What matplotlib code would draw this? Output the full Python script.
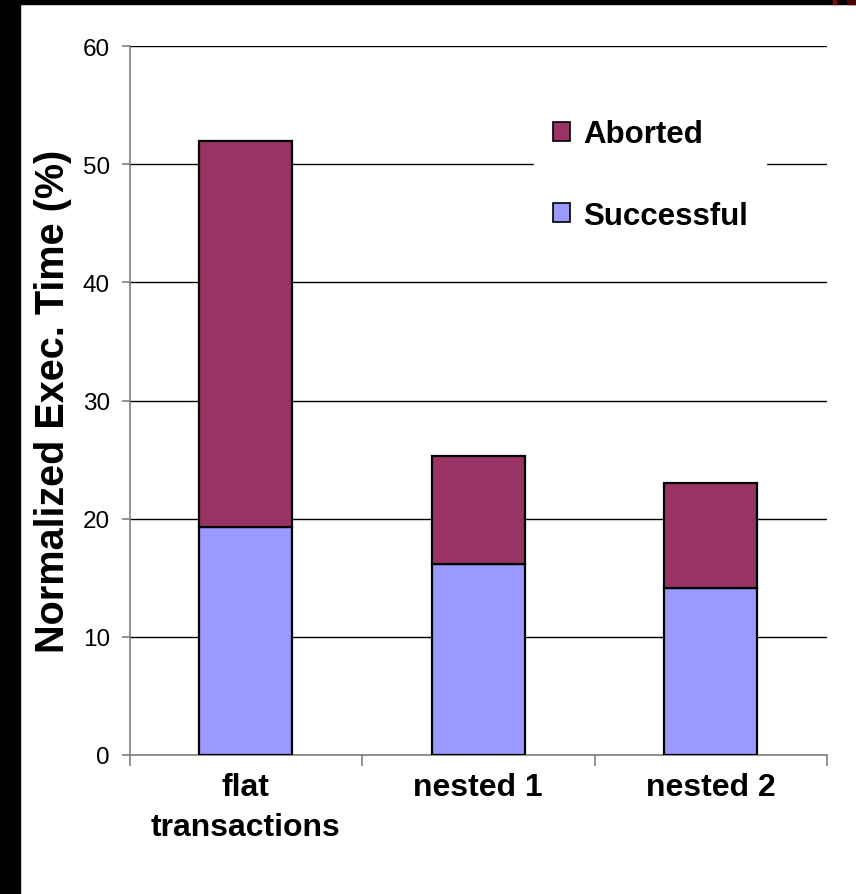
import matplotlib.pyplot as plt
from matplotlib.patches import Rectangle, Patch
import numpy as np

# Execution time breakdown per transaction scheme
categories = ["flat\ntransactions", "nested 1", "nested 2"]
successful = [19.3, 16.2, 14.1]
aborted = [32.7, 9.1, 8.9]

succ_color = "#9999FF"
abort_color = "#993366"

plt.rcParams['font.family'] = ['Liberation Sans', 'DejaVu Sans']

fig = plt.figure(figsize=(8.56, 8.95), dpi=100)
ax = fig.add_axes([129.5 / 856, 1 - 756 / 895, (827 - 129.5) / 856, (756 - 47) / 895])

# dark frame strips along the left and top edges
fig.patches.append(Rectangle((0, 0), 20 / 856, 1, transform=fig.transFigure,
                             color="black", zorder=0))
fig.patches.append(Rectangle((0, 1 - 5 / 895), 1, 5 / 895, transform=fig.transFigure,
                             color="black", zorder=0))
fig.patches.append(Rectangle((833 / 856, 1 - 5 / 895), 3 / 856, 5 / 895,
                             transform=fig.transFigure, color="#7a0a0a", zorder=1))
fig.patches.append(Rectangle((847 / 856, 1 - 5 / 895), 9 / 856, 5 / 895,
                             transform=fig.transFigure, color="#4a0505", zorder=1))

x = np.arange(len(categories))
w = 0.40
ax.bar(x, successful, w, color=succ_color, edgecolor="black", linewidth=1.6, zorder=3)
ax.bar(x, aborted, w, bottom=successful, color=abort_color, edgecolor="black",
       linewidth=1.6, zorder=3)

ax.set_xlim(-0.5, len(categories) - 0.5)
ax.set_ylim(0, 60)
ax.set_yticks(range(0, 61, 10))
ax.yaxis.grid(True, color="black", linewidth=1.0, zorder=0)
ax.set_axisbelow(True)

ax.set_xticks(x)
ax.set_xticklabels(categories, fontsize=23, fontweight="bold", linespacing=1.45)
ax.set_xticks(np.arange(-0.5, len(categories), 1.0), minor=True)
ax.tick_params(axis="x", which="major", length=0, pad=12)
ax.tick_params(axis="x", which="minor", length=8, color="#808080", width=1.2)
ax.tick_params(axis="y", length=6, color="#808080", width=1.2, labelsize=17.5, pad=8)

for s in ["top", "right"]:
    ax.spines[s].set_visible(False)
for s in ["left", "bottom"]:
    ax.spines[s].set_color("#808080")
    ax.spines[s].set_linewidth(1.2)

ax.set_ylabel("Normalized Exec. Time (%)", fontsize=28.5, fontweight="bold", labelpad=8)

handles = [Patch(facecolor=abort_color, edgecolor="black", linewidth=1.2, label="Aborted"),
           Patch(facecolor=succ_color, edgecolor="black", linewidth=1.2, label="Successful")]
leg = ax.legend(handles=handles, loc="upper left", bbox_to_anchor=(0.558, 0.945),
                frameon=True, fancybox=False, framealpha=1, edgecolor="white",
                facecolor="white", handlelength=0.55, handleheight=0.55,
                handletextpad=0.4, labelspacing=1.65, borderpad=0.6,
                prop={"size": 22.5, "weight": "bold"})
leg.set_zorder(5)

fig.savefig("out.png", dpi=100, facecolor="white")
